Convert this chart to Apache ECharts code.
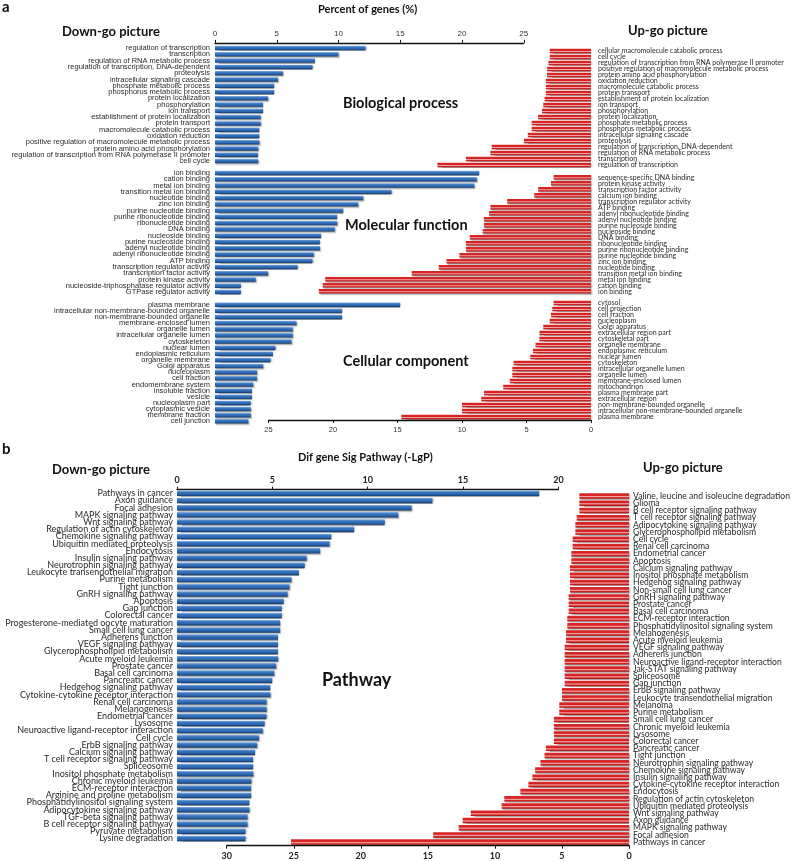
<!DOCTYPE html>
<html>
<head>
<meta charset="utf-8">
<script src="https://cdn.jsdelivr.net/npm/echarts@6/dist/echarts.min.js"></script>
<style>html,body{margin:0;padding:0;background:#fff}#c{width:796px;height:861px}</style>
</head>
<body>
<div id="c"></div>
<script>
// ---------- DATA ----------
const bpDownCats = ["regulation of transcription","transcription","regulation of RNA metabolic process","regulation of transcription, DNA-dependent","proteolysis","intracellular signaling cascade","phosphate metabolic process","phosphorus metabolic process","protein localization","phosphorylation","ion transport","establishment of protein localization","protein transport","macromolecule catabolic process","oxidation reduction","positive regulation of macromolecule metabolic process","protein amino acid phosphorylation","regulation of transcription from RNA polymerase II promoter","cell cycle"];
const bpDownVals = [12.2,10.0,8.1,7.9,5.5,5.1,4.8,4.8,4.3,3.9,3.9,3.7,3.7,3.6,3.6,3.6,3.5,3.5,3.5];

const bpUpCats = ["cellular macromolecule catabolic process","cell cycle","regulation of transcription from RNA polymerase II promoter","positive regulation of macromolecule metabolic process","protein amino acid phosphorylation","oxidation reduction","macromolecule catabolic process","protein transport","establishment of protein localization","ion transport","phosphorylation","protein localization","phosphate metabolic process","phosphorus metabolic process","intracellular signaling cascade","proteolysis","regulation of transcription, DNA-dependent","regulation of RNA metabolic process","transcription","regulation of transcription"];
const bpUpVals = [3.2,3.2,3.3,3.4,3.4,3.5,3.5,3.5,3.6,3.7,3.8,4.1,4.6,4.6,4.9,5.2,7.7,7.8,9.7,11.9];

const mfDownCats = ["ion binding","cation binding","metal ion binding","transition metal ion binding","nucleotide binding","zinc ion binding","purine nucleotide binding","purine ribonucleotide binding","ribonucleotide binding","DNA binding","nucleoside binding","purine nucleoside binding","adenyl nucleotide binding","adenyl ribonucleotide binding","ATP binding","transcription regulator activity","transcription factor activity","protein kinase activity","nucleoside-triphosphatase regulator activity","GTPase regulator activity"];
const mfDownVals = [21.4,21.2,21.0,14.3,12.0,11.6,10.4,9.9,9.9,9.7,8.6,8.5,8.5,8.0,7.9,6.7,4.3,3.3,2.1,2.1];

const mfUpCats = ["sequence-specific DNA binding","protein kinase activity","transcription factor activity","calcium ion binding","transcription regulator activity","ATP binding","adenyl ribonucleotide binding","adenyl nucleotide binding","purine nucleoside binding","nucleoside binding","DNA binding","ribonucleotide binding","purine ribonucleotide binding","purine nucleotide binding","zinc ion binding","nucleotide binding","transition metal ion binding","metal ion binding","cation binding","ion binding"];
const mfUpVals = [2.9,3.1,4.1,4.4,6.5,7.8,7.9,8.3,8.3,8.4,9.4,9.7,9.7,10.2,11.2,11.8,13.9,20.6,20.8,21.1];

const ccDownCats = ["plasma membrane","intracellular non-membrane-bounded organelle","non-membrane-bounded organelle","membrane-enclosed lumen","organelle lumen","intracellular organelle lumen","cytoskeleton","nuclear lumen","endoplasmic reticulum","organelle membrane","Golgi apparatus","nucleoplasm","cell fraction","endomembrane system","insoluble fraction","vesicle","nucleoplasm part","cytoplasmic vesicle","membrane fraction","cell junction"];
const ccDownVals = [15.0,10.3,10.3,6.6,6.3,6.3,6.2,4.9,4.7,4.5,3.9,3.4,3.4,3.1,3.0,3.0,2.9,2.9,2.9,2.7];

const ccUpCats = ["cytosol","cell projection","cell fraction","nucleoplasm","Golgi apparatus","extracellular region part","cytoskeletal part","organelle membrane","endoplasmic reticulum","nuclear lumen","cytoskeleton","intracellular organelle lumen","organelle lumen","membrane-enclosed lumen","mitochondrion","plasma membrane part","extracellular region","non-membrane-bounded organelle","intracellular non-membrane-bounded organelle","plasma membrane"];
const ccUpVals = [2.9,3.0,3.1,3.2,3.7,4.0,4.0,4.3,4.5,4.7,6.0,6.1,6.1,6.3,6.8,8.3,8.5,10.0,10.0,14.7];

const pwDownCats = ["Pathways in cancer","Axon guidance","Focal adhesion","MAPK signaling pathway","Wnt signaling pathway","Regulation of actin cytoskeleton","Chemokine signaling pathway","Ubiquitin mediated proteolysis","Endocytosis","Insulin signaling pathway","Neurotrophin signaling pathway","Leukocyte transendothelial migration","Purine metabolism","Tight junction","GnRH signaling pathway","Apoptosis","Gap junction","Colorectal cancer","Progesterone-mediated oocyte maturation","Small cell lung cancer","Adherens junction","VEGF signaling pathway","Glycerophospholipid metabolism","Acute myeloid leukemia","Prostate cancer","Basal cell carcinoma","Pancreatic cancer","Hedgehog signaling pathway","Cytokine-cytokine receptor interaction","Renal cell carcinoma","Melanogenesis","Endometrial cancer","Lysosome","Neuroactive ligand-receptor interaction","Cell cycle","ErbB signaling pathway","Calcium signaling pathway","T cell receptor signaling pathway","Spliceosome","Inositol phosphate metabolism","Chronic myeloid leukemia","ECM-receptor interaction","Arginine and proline metabolism","Phosphatidylinositol signaling system","Adipocytokine signaling pathway","TGF-beta signaling pathway","B cell receptor signaling pathway","Pyruvate metabolism","Lysine degradation"];
const pwDownVals = [19.0,13.4,12.3,11.6,10.9,9.3,8.1,8.0,7.5,6.8,6.7,6.4,6.0,5.9,5.8,5.6,5.5,5.5,5.4,5.4,5.3,5.3,5.3,5.3,5.2,5.1,5.0,4.9,4.9,4.7,4.7,4.7,4.6,4.5,4.3,4.2,4.1,4.0,4.0,4.0,3.9,3.9,3.9,3.8,3.8,3.7,3.7,3.6,3.6];

const pwUpCats = ["Valine, leucine and isoleucine degradation","Glioma","B cell receptor signaling pathway","T cell receptor signaling pathway","Adipocytokine signaling pathway","Glycerophospholipid metabolism","Cell cycle","Renal cell carcinoma","Endometrial cancer","Apoptosis","Calcium signaling pathway","Inositol phosphate metabolism","Hedgehog signaling pathway","Non-small cell lung cancer","GnRH signaling pathway","Prostate cancer","Basal cell carcinoma","ECM-receptor interaction","Phosphatidylinositol signaling system","Melanogenesis","Acute myeloid leukemia","VEGF signaling pathway","Adherens junction","Neuroactive ligand-receptor interaction","Jak-STAT signaling pathway","Spliceosome","Gap junction","ErbB signaling pathway","Leukocyte transendothelial migration","Melanoma","Purine metabolism","Small cell lung cancer","Chronic myeloid leukemia","Lysosome","Colorectal cancer","Pancreatic cancer","Tight junction","Neurotrophin signaling pathway","Chemokine signaling pathway","Insulin signaling pathway","Cytokine-cytokine receptor interaction","Endocytosis","Regulation of actin cytoskeleton","Ubiquitin mediated proteolysis","Wnt signaling pathway","Axon guidance","MAPK signaling pathway","Focal adhesion","Pathways in cancer"];
const pwUpVals = [3.7,3.7,3.7,3.9,4.0,4.0,4.2,4.2,4.3,4.3,4.4,4.4,4.4,4.4,4.5,4.5,4.5,4.6,4.6,4.7,4.7,4.8,4.8,4.8,4.8,4.8,4.8,5.0,5.0,5.2,5.2,5.6,5.6,5.6,5.6,6.2,6.3,6.6,7.0,7.2,7.5,8.1,9.3,9.5,11.8,12.4,12.7,14.6,25.2];

const goAxisMax = 25;      // percent of genes axis range
const pwDownAxisMax = 20;  // -LgP, down
const pwUpAxisMax = 30;    // -LgP, up
const axisStep = 5;

// ---------- STYLE / LAYOUT ----------
const blueGrad = new echarts.graphic.LinearGradient(0,0,0,1,[
  {offset:0,color:'#8fb4e0'},{offset:0.3,color:'#3a78c2'},{offset:0.7,color:'#2862ab'},{offset:1,color:'#143a6b'}]);
const redGrad = new echarts.graphic.LinearGradient(0,0,0,1,[
  {offset:0,color:'#d62a2a'},{offset:0.4,color:'#d82020'},{offset:0.6,color:'#f2a8a8'},{offset:0.8,color:'#d42222'},{offset:1,color:'#9a1414'}]);

const blocks = [
  {cats:bpDownCats, vals:bpDownVals, side:'down', grid:{left:215, width:goAxisMax*12.35, top:44.9, height:19*6.28}, max:goAxisMax, color:blueGrad, bw:4.5, font:'Liberation Sans', fs:7.5, margin:5, axis:'topA'},
  {cats:mfDownCats, vals:mfDownVals, side:'down', grid:{left:215, width:goAxisMax*12.35, top:169.9, height:20*6.26}, max:goAxisMax, color:blueGrad, bw:4.5, font:'Liberation Sans', fs:7.5, margin:5},
  {cats:ccDownCats, vals:ccDownVals, side:'down', grid:{left:215, width:goAxisMax*12.35, top:301.6, height:20*6.14}, max:goAxisMax, color:blueGrad, bw:4.5, font:'Liberation Sans', fs:7.5, margin:5},
  {cats:bpUpCats, vals:bpUpVals, side:'up', grid:{left:591-goAxisMax*12.9, width:goAxisMax*12.9, top:48, height:20*6.0}, max:goAxisMax, color:redGrad, bw:4.5, font:'Lato', fs:7, margin:7},
  {cats:mfUpCats, vals:mfUpVals, side:'up', grid:{left:591-goAxisMax*12.9, width:goAxisMax*12.9, top:174.3, height:20*6.0}, max:goAxisMax, color:redGrad, bw:4.5, font:'Lato', fs:7, margin:7},
  {cats:ccUpCats, vals:ccUpVals, side:'up', grid:{left:591-goAxisMax*12.9, width:goAxisMax*12.9, top:300, height:20*6.0}, max:goAxisMax, color:redGrad, bw:4.5, font:'Lato', fs:7, margin:7, axis:'bottomA'},
  {cats:pwDownCats, vals:pwDownVals, side:'down', grid:{left:177, width:pwDownAxisMax*19.07, top:489.7, height:49*7.19}, max:pwDownAxisMax, color:blueGrad, bw:5.5, font:'Lato', fs:9, margin:4, axis:'topB'},
  {cats:pwUpCats, vals:pwUpVals, side:'up', grid:{left:629-pwUpAxisMax*13.41, width:pwUpAxisMax*13.41, top:492.4, height:49*7.21}, max:pwUpAxisMax, color:redGrad, bw:5.5, font:'Lato', fs:8.6, margin:4, axis:'bottomB'}
];

const grids=[], xAxes=[], yAxes=[], series=[];
blocks.forEach((b,i)=>{
  grids.push(Object.assign({outerBoundsMode:'none', containLabel:false}, b.grid));
  const xa = {type:'value', gridIndex:i, min:0, max:b.max, interval:axisStep, inverse:b.side==='up',
    splitLine:{show:false}, show:!!b.axis,
    axisLine:{show:true, lineStyle:{color:'#111', width:1.3}},
    axisTick:{show:true, length:3, lineStyle:{color:'#111'}},
    axisLabel:{show:true, color:'#333', fontFamily:'Liberation Sans', fontSize:8, margin:5}};
  if (b.axis==='topA'){ xa.position='top'; xa.offset=2; xa.axisLabel.margin=5; }
  if (b.axis==='bottomA'){ xa.position='bottom'; xa.offset=0; xa.axisLabel.margin=6; xa.axisLabel.fontSize=7.5; }
  if (b.axis==='topB'){ xa.position='top'; xa.offset=0; xa.axisLabel = {color:'#222', fontFamily:'Lato', fontWeight:'bold', fontSize:9, margin:5}; }
  if (b.axis==='bottomB'){ xa.position='bottom'; xa.offset=0; xa.axisLabel = {color:'#222', fontFamily:'Lato', fontWeight:'bold', fontSize:9, margin:6}; }
  xAxes.push(xa);
  yAxes.push({type:'category', gridIndex:i, inverse:true, data:b.cats, position:b.side==='up'?'right':'left',
    axisLine:{show:false}, axisTick:{show:false}, splitLine:{show:false},
    axisLabel:{interval:0, fontFamily:b.font, fontSize:b.fs, color:'#2a2a2a', margin:b.margin, lineHeight:b.fs}});
  series.push({type:'bar', xAxisIndex:i, yAxisIndex:i, data:b.vals, barWidth:b.bw, silent:true, animation:false,
    itemStyle:{color:b.color, shadowColor:'rgba(0,0,0,0.35)', shadowBlur:1.5, shadowOffsetX:1, shadowOffsetY:1.2}});
});

const T = (text, x, y, size, opts={}) => ({type:'text', left:x, top:y, silent:true,
  style:Object.assign({text, fontFamily:'Lato', fontWeight:'bold', fontSize:size, fill:'#111'}, opts)});

const graphics = [
  T('a', 2, 0, 15),
  T('Percent of genes (%)', 318, 4, 11),
  T('Down-go picture', 62, 25, 13),
  T('Up-go picture', 628, 24, 13),
  T('Biological process', 343, 96, 14.5),
  T('Molecular function', 345, 218, 14.5),
  T('Cellular component', 343, 354, 14.5),
  T('b', 2, 442, 15),
  T('Dif gene Sig Pathway (-LgP)', 298, 452, 11),
  T('Down-go picture', 52, 463, 13),
  T('Up-go picture', 643, 461, 13),
  T('Pathway', 322, 671, 18)
];

const chart = echarts.init(document.getElementById('c'), null, {renderer:'canvas', width:796, height:861});
chart.setOption({animation:false, backgroundColor:'#fff', grid:grids, xAxis:xAxes, yAxis:yAxes, series, graphic:graphics});
</script>
</body>
</html>
